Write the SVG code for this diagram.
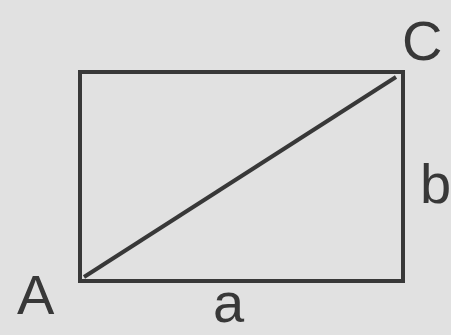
<svg xmlns="http://www.w3.org/2000/svg" width="451" height="335" viewBox="0 0 451 335">
<style>
.ln{fill:none;stroke:#383838;stroke-width:4;stroke-linejoin:miter}
.lb{font-family:"Liberation Sans","DejaVu Sans",sans-serif;fill:#383838;font-size:56px}
</style>
<rect x="0" y="0" width="451" height="335" fill="#e1e1e1"/>
<g id="rect"><rect class="ln" x="80" y="72" width="323" height="209"/></g>
<g id="connectors"><line class="ln" x1="84" y1="277" x2="396" y2="77" stroke-width="3.5"/></g>
<g id="A"><text class="lb" x="17" y="314">A</text></g>
<g id="C"><text class="lb" x="402" y="60" font-size="66">C</text></g>
<g id="b"><text class="lb" x="420" y="203" font-size="58">b</text></g>
<g id="a"><text class="lb" x="213" y="322" font-size="52">a</text></g>
</svg>
